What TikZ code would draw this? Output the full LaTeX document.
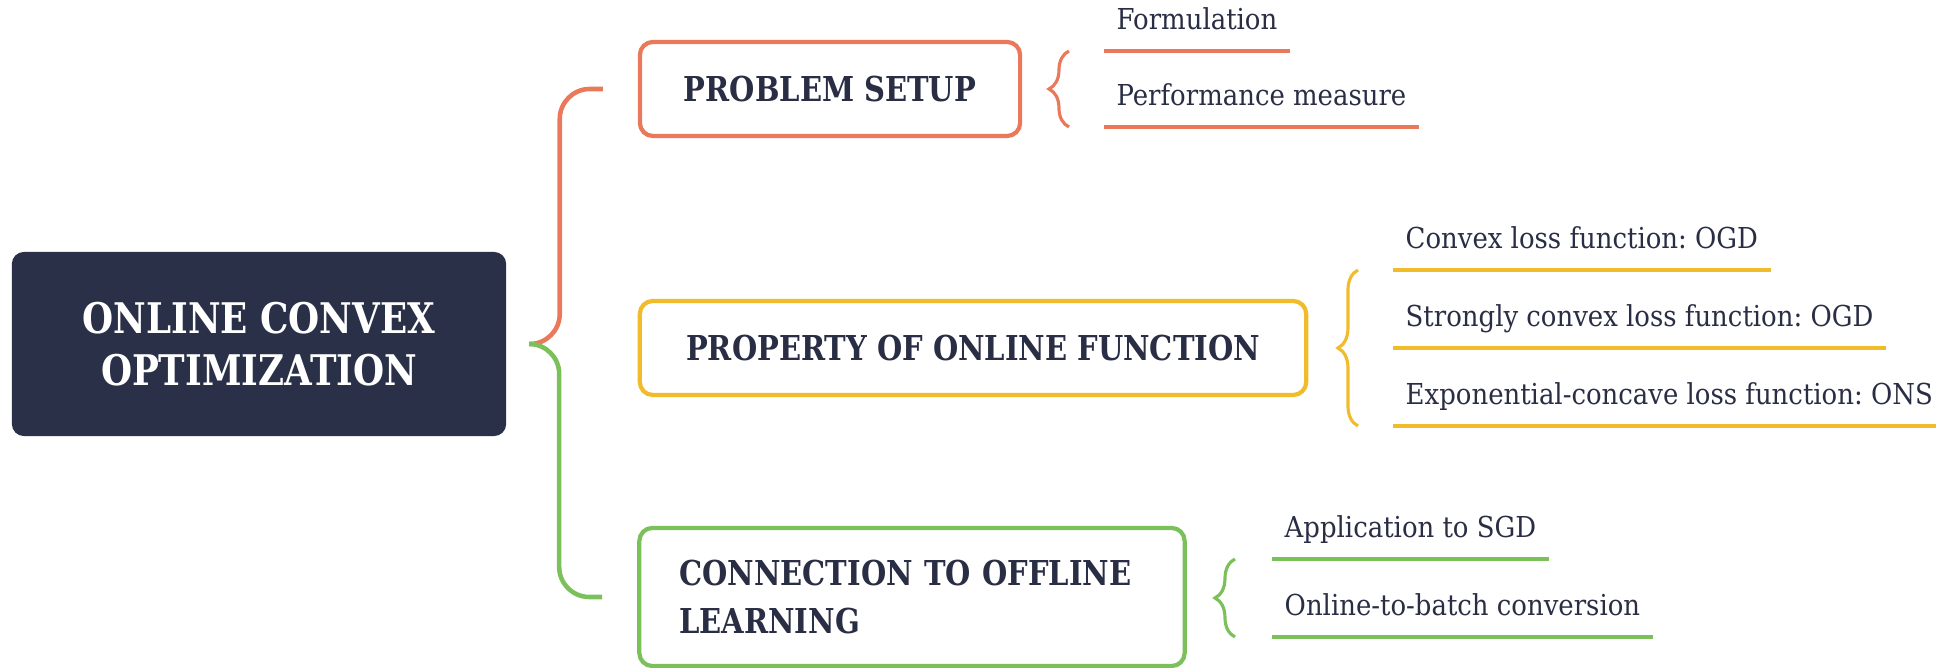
\documentclass[tikz,border=0pt]{standalone}
\usepackage{fontspec}
\setmainfont{DejaVu Serif Condensed}
\newfontfamily\headfont{DejaVu Serif Condensed}[FakeStretch=0.94]
\usepackage{xcolor}
\usetikzlibrary{decorations.pathreplacing}
\definecolor{ocnavy}{HTML}{293048}
\definecolor{octext}{HTML}{2A2E45}
\definecolor{ocoral}{HTML}{E9795A}
\definecolor{ocyellow}{HTML}{F0BC2B}
\definecolor{ocgreen}{HTML}{7CC05B}
\frenchspacing
\tikzset{
  rootbox/.style={fill=ocnavy, rounded corners=0.12cm, text=white, align=center, font=\headfont\fontsize{12}{14.8}\selectfont\bfseries, minimum width=4.94cm, minimum height=1.84cm},
  topic/.style={draw, line width=1.2pt, rounded corners=0.13cm, fill=white, text=octext, inner xsep=0.4cm, minimum height=0.94cm, font=\headfont\fontsize{9.75}{13.4}\selectfont\bfseries},
  leaf/.style={anchor=south west, inner xsep=0.12cm, inner ysep=0.21cm, text depth=0pt, text=octext, font=\fontsize{8.2}{9}\selectfont},
  trunk/.style={line width=1.3pt, rounded corners=0.3cm},
  curly/.style={decorate, decoration={brace, amplitude=0.2cm}, line width=0.9pt},
  uline/.style={line width=0.9pt},
}
\begin{document}
\begin{tikzpicture}[x=0.01cm, y=-0.01cm]
  \useasboundingbox (0,0) rectangle (1936,668);
  % root
  \node[rootbox] (root) at (259,344) {ONLINE CONVEX\\OPTIMIZATION};
  % topics
  \node[topic, draw=ocoral, minimum width=3.8cm] (setup) at (830,89) {PROBLEM SETUP};
  \node[topic, draw=ocyellow, minimum width=6.66cm] (prop) at (973,348) {PROPERTY OF ONLINE FUNCTION};
  \node[topic, draw=ocgreen, text width=4.65cm, align=left, minimum height=1.38cm] (conn) at (912,597) {\mbox{CONNECTION TO OFFLINE}\\LEARNING};
  % trunk
  \draw[trunk, ocoral] ([xshift=0.25cm]root.east) -| ([xshift=-0.78cm]setup.west) -- ([xshift=-0.35cm]setup.west);
  \draw[trunk, ocgreen] ([xshift=0.25cm]root.east) -| ([xshift=-0.78cm]conn.west) -- ([xshift=-0.35cm]conn.west);
  % problem setup
  \foreach \y/\t [count=\i] in {51/Formulation, 127/Performance measure} {
    \node[leaf] (s\i) at (1104,\y) {\t};
    \draw[uline, ocoral] (s\i.south west) -- (s\i.south east);
  }
  \draw[curly, ocoral] ([xshift=-0.35cm]s2.south west) -- ([xshift=-0.35cm]s1.south west);
  % property
  \foreach \y/\t [count=\i] in {270/Convex loss function: OGD, 348/Strongly convex loss function: OGD, 426/Exponential-concave loss function: ONS} {
    \node[leaf] (p\i) at (1393,\y) {\t};
    \draw[uline, ocyellow] (p\i.south west) -- (p\i.south east);
  }
  \draw[curly, ocyellow] ([xshift=-0.35cm]p3.south west) -- ([xshift=-0.35cm]p1.south west);
  % connection
  \foreach \y/\t [count=\i] in {559/Application to SGD, 637/Online-to-batch conversion} {
    \node[leaf] (c\i) at (1272,\y) {\t};
    \draw[uline, ocgreen] (c\i.south west) -- (c\i.south east);
  }
  \draw[curly, ocgreen] ([xshift=-0.37cm]c2.south west) -- ([xshift=-0.37cm]c1.south west);
\end{tikzpicture}
\end{document}
